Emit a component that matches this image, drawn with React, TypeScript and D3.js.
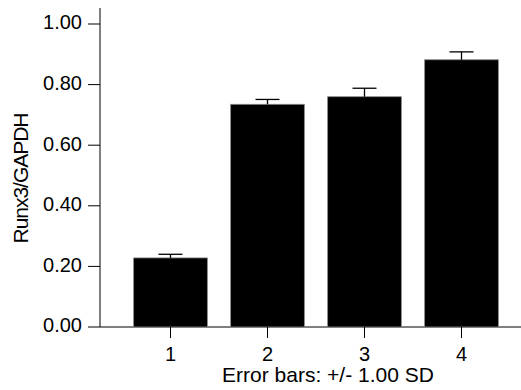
import React, { useEffect, useRef } from "react";
import * as d3 from "d3";

const categories = ["1", "2", "3", "4"];
const means = [0.228, 0.735, 0.76, 0.882];
const sds = [0.012, 0.016, 0.028, 0.026];
const yTicks = [0, 0.2, 0.4, 0.6, 0.8, 1.0];

const FONT = "'Liberation Sans', Arial, sans-serif";
const FS = 20;

const Chart: React.FC = () => {
  const ref = useRef<SVGSVGElement | null>(null);

  useEffect(() => {
    const svg = d3.select(ref.current);
    svg.selectAll("*").remove();

    const x = d3.scaleBand<string>().domain(categories).range([122, 510]).paddingInner(0.24).paddingOuter(0.12);
    const y = d3.scaleLinear().domain([0, 1]).range([327, 24]);
    const axisLeft = 100;

    // axes lines
    svg.append("line").attr("x1", axisLeft).attr("x2", axisLeft).attr("y1", 8).attr("y2", y(0)).attr("stroke", "#000");
    svg.append("line").attr("x1", axisLeft).attr("x2", 521).attr("y1", y(0)).attr("y2", y(0)).attr("stroke", "#000");

    // y ticks
    const yt = svg.append("g");
    yTicks.forEach((t) => {
      yt.append("line").attr("x1", 88).attr("x2", axisLeft).attr("y1", y(t)).attr("y2", y(t)).attr("stroke", "#000");
      yt.append("text")
        .attr("x", 82)
        .attr("y", y(t))
        .attr("dy", "0.27em")
        .attr("text-anchor", "end")
        .attr("font-family", FONT)
        .attr("font-size", FS)
        .text(d3.format(".2f")(t));
    });

    // bars
    svg.append("g")
      .selectAll("rect")
      .data(categories)
      .join("rect")
      .attr("x", (d) => x(d)!)
      .attr("width", x.bandwidth())
      .attr("y", (_, i) => y(means[i]))
      .attr("height", (_, i) => y(0) - y(means[i]))
      .attr("fill", "#000")
      .attr("stroke", "#888")
      .attr("stroke-width", 0.8);

    // error bars (upper only)
    const eb = svg.append("g").attr("stroke", "#000").attr("stroke-width", 1.3);
    categories.forEach((c, i) => {
      const cx = x(c)! + x.bandwidth() / 2;
      eb.append("line").attr("x1", cx).attr("x2", cx).attr("y1", y(means[i])).attr("y2", y(means[i] + sds[i]));
      eb.append("line").attr("x1", cx - 12).attr("x2", cx + 12).attr("y1", y(means[i] + sds[i])).attr("y2", y(means[i] + sds[i]));
    });

    // x ticks
    categories.forEach((c) => {
      const cx = x(c)! + x.bandwidth() / 2;
      svg.append("line").attr("x1", cx).attr("x2", cx).attr("y1", y(0)).attr("y2", y(0) + 11).attr("stroke", "#000");
      svg.append("text")
        .attr("x", cx)
        .attr("y", 361)
        .attr("text-anchor", "middle")
        .attr("font-family", FONT)
        .attr("font-size", FS)
        .text(c);
    });

    svg.append("text")
      .attr("x", 328)
      .attr("y", 382)
      .attr("text-anchor", "middle")
      .attr("font-family", FONT)
      .attr("font-size", 21)
      .text("Error bars: +/- 1.00 SD");

    svg.append("text")
      .attr("transform", `translate(28,178) rotate(-90)`)
      .attr("text-anchor", "middle")
      .attr("font-family", FONT)
      .attr("font-size", 21)
      .attr("textLength", 131)
      .text("Runx3/GAPDH");
  }, []);

  return <svg ref={ref} width={521} height={390} style={{ display: "block", background: "#fff" }} />;
};

export default function App() {
  return (
    <div style={{ position: "absolute", left: 0, top: 0 }}>
      <Chart />
    </div>
  );
}
